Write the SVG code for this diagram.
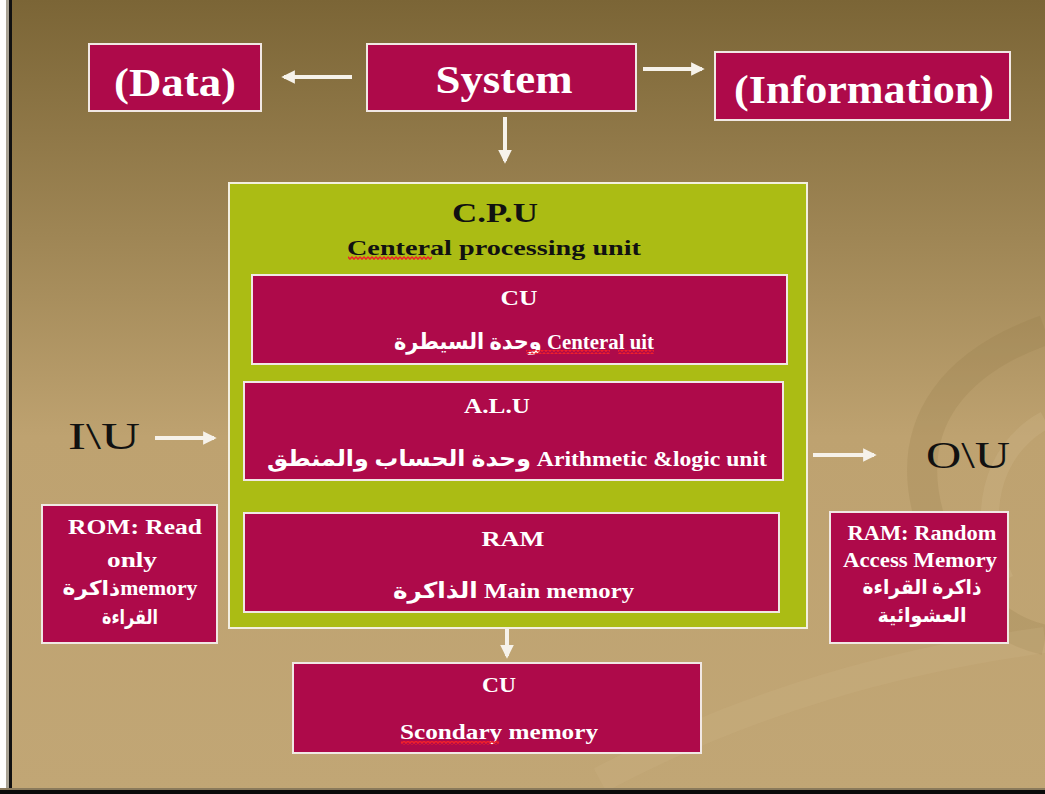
<svg xmlns="http://www.w3.org/2000/svg" width="1045" height="794" viewBox="0 0 1045 794">
  <defs>
    <linearGradient id="bg" x1="0" y1="0" x2="0" y2="1">
      <stop offset="0" stop-color="#7b6536"/>
      <stop offset="0.3" stop-color="#9f8655"/>
      <stop offset="0.55" stop-color="#bea270"/>
      <stop offset="1" stop-color="#c1a675"/>
    </linearGradient>
    <pattern id="squig" width="4" height="4" patternUnits="userSpaceOnUse">
      <path d="M0,0.8 L2,3.2 L4,0.8" fill="none" stroke="#f0202a" stroke-width="1.4"/>
    </pattern>
    <marker id="ah" viewBox="0 0 10 10" refX="8" refY="5" markerWidth="3.4" markerHeight="3.4" orient="auto-start-reverse">
      <path d="M0,0 L10,5 L0,10 Z" fill="#f6f2ea"/>
    </marker>
    <style>
      .box { fill: #ae0a4a; stroke: #f1e8e4; stroke-width: 2; }
      .cpu { fill: #abbc14; stroke: #f3efe0; stroke-width: 2; }
      .big { font-family: "Liberation Serif", "DejaVu Sans", serif; font-weight: bold; font-size: 40px; fill: #ffffff; }
      .lbl { font-family: "Liberation Serif", "DejaVu Sans", serif; font-weight: bold; font-size: 22px; fill: #ffffff; }
      .sm { font-family: "Liberation Serif", "DejaVu Sans", serif; font-weight: bold; font-size: 20px; fill: #ffffff; }
      .dark { font-family: "Liberation Serif", "DejaVu Sans", serif; font-weight: bold; fill: #111111; }
      .io { font-family: "Liberation Serif", serif; font-size: 38px; fill: #111111; }
      .conn { stroke: #f6f2ea; stroke-width: 4; fill: none; marker-end: url(#ah); }
    </style>
  </defs>

  <!-- background -->
  <rect x="0" y="0" width="1045" height="794" fill="url(#bg)"/>
  <path d="M1045,330 C960,360 900,420 930,520 C950,590 1000,630 1045,640" fill="none" stroke="#8f7646" stroke-opacity="0.2" stroke-width="30"/>
  <path d="M1045,420 C990,450 975,520 1005,580" fill="none" stroke="#d4bd8e" stroke-opacity="0.25" stroke-width="18"/>
  <path d="M600,780 C750,700 900,660 1045,640" fill="none" stroke="#d2bb8b" stroke-opacity="0.2" stroke-width="26"/>
  <rect x="0" y="0" width="6" height="794" fill="#ffffff"/>
  <rect x="6" y="0" width="3" height="794" fill="#a8a294"/>
  <rect x="9" y="0" width="3" height="794" fill="#111111"/>
  <rect x="0" y="788" width="1045" height="2" fill="#8a7a5c"/>
  <rect x="0" y="790" width="1045" height="4" fill="#0a0a0a"/>

  <!-- connectors -->
  <g id="connectors">
    <line class="conn" x1="352" y1="77" x2="284" y2="77"/>
    <line class="conn" x1="643" y1="69" x2="702" y2="69"/>
    <line class="conn" x1="505" y1="117" x2="505" y2="161"/>
    <line class="conn" x1="155" y1="438" x2="214" y2="438"/>
    <line class="conn" x1="813" y1="455" x2="874" y2="455"/>
    <line class="conn" x1="507" y1="629" x2="507" y2="656"/>
  </g>

  <g id="data">
    <rect class="box" x="89" y="44" width="172" height="67"/>
    <text class="big" x="175" y="96" text-anchor="middle" textLength="122" lengthAdjust="spacingAndGlyphs">(Data)</text>
  </g>
  <g id="system">
    <rect class="box" x="367" y="44" width="269" height="67"/>
    <text class="big" x="504" y="93" text-anchor="middle" textLength="137" lengthAdjust="spacingAndGlyphs">System</text>
  </g>
  <g id="information">
    <rect class="box" x="715" y="52" width="295" height="68"/>
    <text class="big" x="864" y="103" text-anchor="middle" textLength="260" lengthAdjust="spacingAndGlyphs">(Information)</text>
  </g>

  <g id="cpu">
    <rect class="cpu" x="229" y="183" width="578" height="445"/>
    <text class="dark" x="495" y="222" font-size="28" text-anchor="middle" textLength="86" lengthAdjust="spacingAndGlyphs">C.P.U</text>
    <text class="dark" x="347" y="255" font-size="22" textLength="294" lengthAdjust="spacingAndGlyphs">Centeral processing unit</text>
    <rect x="348" y="256" width="84" height="4" fill="url(#squig)"/>
  </g>

  <g id="cu">
    <rect class="box" x="252" y="275" width="535" height="89"/>
    <text class="lbl" x="519" y="305" text-anchor="middle" textLength="37" lengthAdjust="spacingAndGlyphs">CU</text>
    <text class="lbl" x="394" y="349" textLength="260" lengthAdjust="spacingAndGlyphs">وحدة السيطرة Centeral uit</text>
    <rect x="526" y="350" width="84" height="4" fill="url(#squig)"/>
    <rect x="618" y="350" width="36" height="4" fill="url(#squig)"/>
  </g>

  <g id="alu">
    <rect class="box" x="244" y="382" width="539" height="98"/>
    <text class="lbl" x="497" y="413" text-anchor="middle" textLength="66" lengthAdjust="spacingAndGlyphs">A.L.U</text>
    <text class="lbl" x="267" y="466" textLength="500" lengthAdjust="spacingAndGlyphs">وحدة الحساب والمنطق Arithmetic &amp;logic unit</text>
  </g>

  <g id="ram">
    <rect class="box" x="244" y="513" width="535" height="99"/>
    <text class="lbl" x="513" y="546" text-anchor="middle" textLength="63" lengthAdjust="spacingAndGlyphs">RAM</text>
    <text class="lbl" x="393" y="598" textLength="241" lengthAdjust="spacingAndGlyphs">الذاكرة Main memory</text>
  </g>

  <g id="iu">
    <text class="io" x="68" y="449" textLength="72" lengthAdjust="spacingAndGlyphs">I\U</text>
  </g>
  <g id="ou">
    <text class="io" x="926" y="468" textLength="84" lengthAdjust="spacingAndGlyphs">O\U</text>
  </g>

  <g id="rom">
    <rect class="box" x="42" y="505" width="175" height="138"/>
    <text class="sm" x="135" y="534" text-anchor="middle" textLength="134" lengthAdjust="spacingAndGlyphs">ROM: Read</text>
    <text class="sm" x="132" y="567" text-anchor="middle" textLength="50" lengthAdjust="spacingAndGlyphs">only</text>
    <text class="sm" x="130" y="595" text-anchor="middle" textLength="135" lengthAdjust="spacingAndGlyphs">ذاكرةmemory</text>
    <text class="sm" x="130" y="624" text-anchor="middle" textLength="56" lengthAdjust="spacingAndGlyphs">القراءة</text>
  </g>

  <g id="ram-random">
    <rect class="box" x="830" y="512" width="178" height="131"/>
    <text class="sm" x="922" y="540" text-anchor="middle" textLength="149" lengthAdjust="spacingAndGlyphs">RAM: Random</text>
    <text class="sm" x="920" y="567" text-anchor="middle" textLength="154" lengthAdjust="spacingAndGlyphs">Access Memory</text>
    <text class="sm" x="922" y="594" text-anchor="middle" textLength="119" lengthAdjust="spacingAndGlyphs">ذاكرة القراءة</text>
    <text class="sm" x="922" y="622" text-anchor="middle" textLength="89" lengthAdjust="spacingAndGlyphs">العشوائية</text>
  </g>

  <g id="secondary">
    <rect class="box" x="293" y="663" width="408" height="90"/>
    <text class="lbl" x="499" y="692" text-anchor="middle" textLength="34" lengthAdjust="spacingAndGlyphs">CU</text>
    <text class="lbl" x="400" y="739" textLength="198" lengthAdjust="spacingAndGlyphs">Scondary memory</text>
    <rect x="401" y="741" width="98" height="4" fill="url(#squig)"/>
  </g>
</svg>
